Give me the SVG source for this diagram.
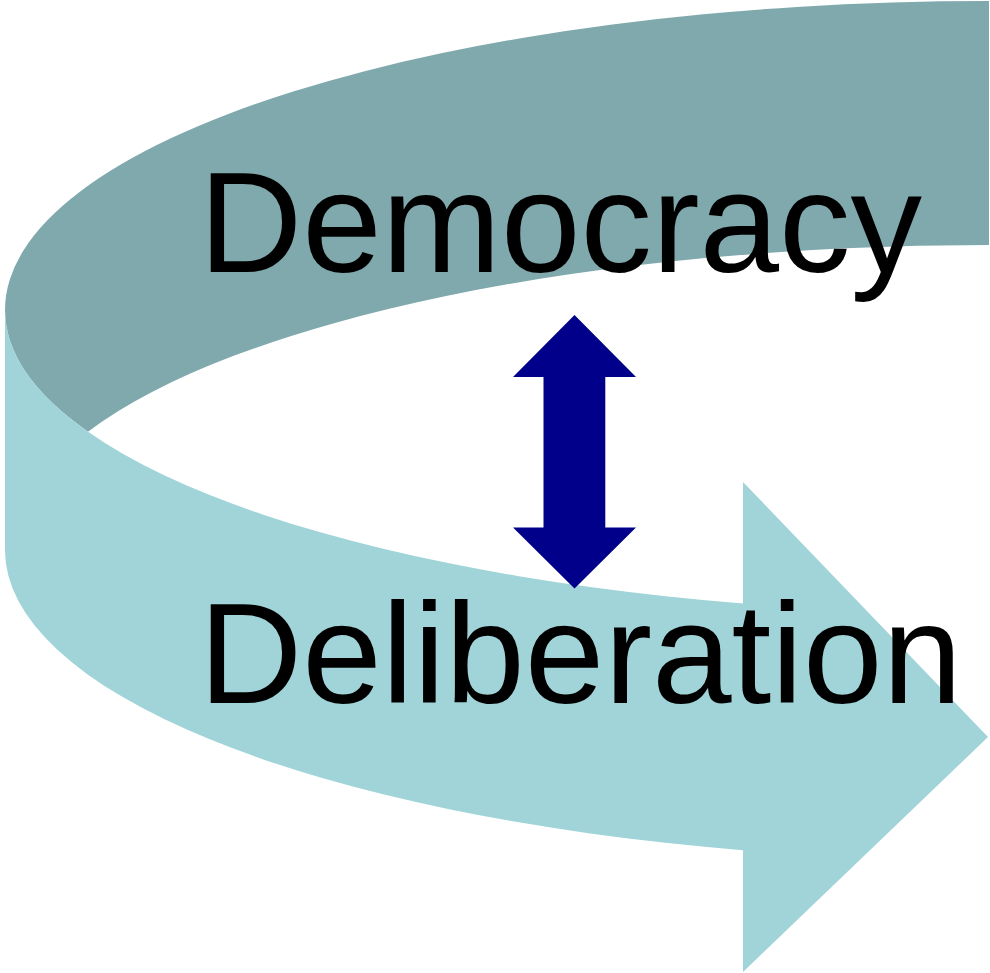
<svg xmlns="http://www.w3.org/2000/svg" width="990" height="973" viewBox="0 0 990 973">
  <style>
    .label { font-family: "Liberation Sans", Arial, sans-serif; font-size: 143px; fill: #000000; }
    .dark { fill: #7FA9AD; }
    .light { fill: #A0D4D8; }
    .navy { fill: #00008B; }
  </style>
  <g id="curved-arrow">
    <path class="dark" d="M5,310 A984,309 0 0 1 989,1 L989,245 A973,300 0 0 0 88,431.7 A984,303 0 0 1 5,310 Z"/>
    <path class="light" d="M5,310 L5,550 A984,310 0 0 0 743,850.2 L743,972 L988,737 L743,482 L743,603.4 A984,303 0 0 1 5,310 Z"/>
  </g>
  <g id="democracy">
    <text class="label" x="199" y="272">Democracy</text>
  </g>
  <g id="deliberation">
    <text class="label" x="199" y="703">Deliberation</text>
  </g>
  <g id="connectors">
    <path class="navy" d="M574.5,315 L636,377 L605.3,377 L605.3,527.5 L636,527.5 L574.5,588.5 L513,527.5 L543.5,527.5 L543.5,377 L513,377 Z"/>
  </g>
</svg>
